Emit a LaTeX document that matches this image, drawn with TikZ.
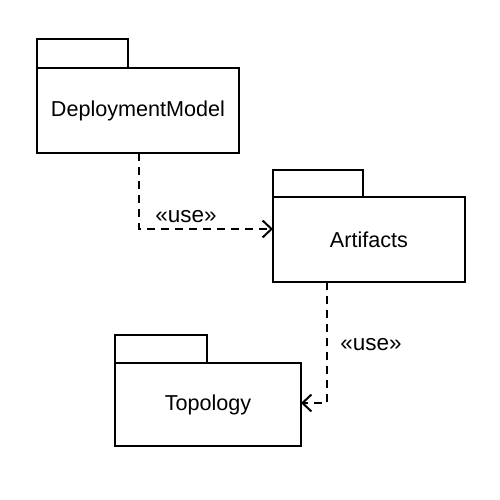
\documentclass[tikz,border=0pt]{standalone}
\usepackage{fontspec}
\setmainfont{Liberation Sans}
\usetikzlibrary{arrows.meta}
\begin{document}
\begin{tikzpicture}[x=1pt,y=-1pt,
  pkgbody/.style={draw,line width=2.3pt,inner sep=0pt,outer sep=0pt,anchor=north west,font=\fontsize{21.6}{25}\selectfont},
  pkgtab/.style={draw,line width=2.3pt,inner sep=0pt,outer sep=0pt,anchor=south west},
  usedep/.style={line width=2pt,dash pattern=on 8pt off 6pt,-{Straight Barb[length=9pt,width=17pt,line width=2pt]}},
  deplabel/.style={font=\fontsize{22.5}{26}\selectfont}]
\useasboundingbox[fill=white] (0,0) rectangle (500,500);
% DeploymentModel
\node[pkgbody,minimum width=202pt,minimum height=85pt] (dm) at (37,68) {DeploymentModel};
\node[pkgtab,minimum width=91pt,minimum height=29pt] (dmtab) at (dm.north west) {};
% Artifacts
\node[pkgbody,minimum width=192pt,minimum height=85pt] (art) at (273,197) {Artifacts};
\node[pkgtab,minimum width=90pt,minimum height=27pt] (arttab) at (art.north west) {};
% Topology
\node[pkgbody,minimum width=186pt,minimum height=83pt] (top) at (115,363) {Topology};
\node[pkgtab,minimum width=92pt,minimum height=28pt] (toptab) at (top.north west) {};
% connectors
\coordinate (c1) at (139,229);
\coordinate (c2) at (327,403);
\draw[usedep] (dm.south -| c1) |- (art.west |- c1);
\draw[usedep] (art.south -| c2) |- (top.east |- c2);
\node[deplabel] (l1) at (186,217) {«use»};
\node[deplabel] (l2) at (371,345) {«use»};
\end{tikzpicture}
\end{document}
